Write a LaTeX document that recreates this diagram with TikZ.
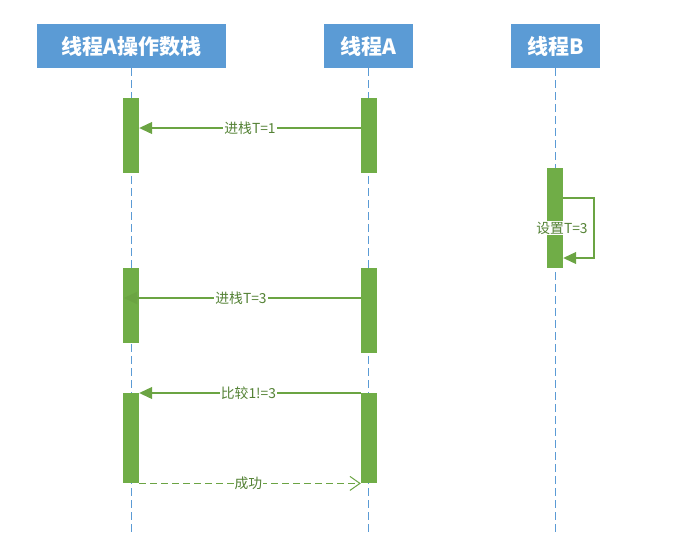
\documentclass[tikz,border=0pt]{standalone}
\usepackage{fontspec}
\newfontfamily\cjk{Noto Sans CJK SC}
\usetikzlibrary{arrows.meta}
\definecolor{hdr}{HTML}{5B9BD5}
\definecolor{barg}{HTML}{70AD47}
\definecolor{lineg}{HTML}{6BA443}
\definecolor{txtg}{HTML}{548235}
\tikzset{
  hdrbox/.style={fill=hdr, text=white, font=\cjk\bfseries\fontsize{21}{25}\selectfont, minimum height=44pt, inner sep=0pt, anchor=north},
  actbar/.style={fill=barg, minimum width=16pt, inner sep=0pt, anchor=north},
  lifeline/.style={draw=hdr, line width=0.9pt, dash pattern=on 8pt off 4pt},
  msg/.style={draw=lineg, line width=1.1pt, -{Triangle[length=13pt,width=12pt]}},
  retmsg/.style={draw=lineg, line width=1pt, dash pattern=on 7pt off 4pt, -{Straight Barb[length=10pt,width=14pt]}},
  lbl/.style={fill=white, text=txtg, font=\cjk\fontsize{13.8}{16}\selectfont, inner sep=1pt}
}
\begin{document}
\begin{tikzpicture}[x=1pt,y=-1pt]
\useasboundingbox (0,0) rectangle (684,552);
% headers
\node[hdrbox, minimum width=189pt] (hS) at (131.5,24) {线程A操作数栈};
\node[hdrbox, minimum width=89pt] (hA) at (368.5,24) {线程A};
\node[hdrbox, minimum width=89pt] (hB) at (555.5,24) {线程B};
% lifeline ends
\coordinate (eS) at (131,532);
\coordinate (eA) at (368,532);
\coordinate (eB) at (555,532);
\draw[lifeline] (hS.south -| eS) -- (eS);
\draw[lifeline] (hA.south -| eA) -- (eA);
\draw[lifeline] (hB.south -| eB) -- (eB);
% activation bars
\node[actbar, minimum height=75pt] (s1) at (131,98) {};
\node[actbar, minimum height=75pt] (a1) at (369,98) {};
\node[actbar, minimum height=100pt] (b1) at (555,168) {};
\node[actbar, minimum height=75pt] (s2) at (131,268) {};
\node[actbar, minimum height=85pt] (a2) at (369,268) {};
\node[actbar, minimum height=90pt] (s3) at (131,393) {};
\node[actbar, minimum height=90pt] (a3) at (369,393) {};
% message 1
\draw[msg] (a1.north west |- 0,128) -- (s1.north east |- 0,128) node[lbl, pos=0.5] {进栈T=1};
% self message
\coordinate (selfR) at (594,198);
\draw[msg] (b1.north east |- 0,198) -- (selfR) |- (b1.north east |- 0,258);
\node[lbl] (l2) at (562,228) {设置T=3};
% message 3
\coordinate (m3t) at (124,298);
\draw[msg] (a2.north west |- 0,298) -- (m3t);
\node[lbl] at (241,298) {进栈T=3};
% message 4
\draw[msg] (a3.north west) -- (s3.north east) node[lbl, pos=0.507] {比较1!=3};
% return
\draw[retmsg] (s3.south east) -- (a3.south west) node[lbl, pos=0.493] {成功};
\end{tikzpicture}
\end{document}
